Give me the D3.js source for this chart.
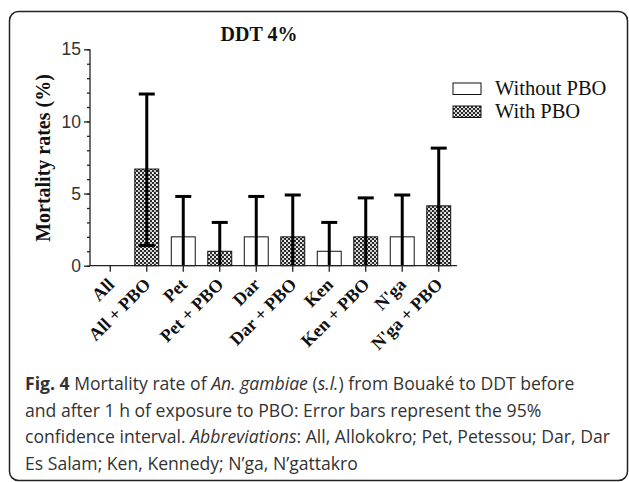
<!DOCTYPE html>
<html>
<head>
<meta charset="utf-8">
<script src="https://cdn.jsdelivr.net/npm/d3@7"></script>
<style>
body { margin: 0; background: #fff; }
svg { display: block; }
</style>
</head>
<body>
<script>
(function(){

//chart data
var categories = ["All", "All + PBO", "Pet", "Pet + PBO", "Dar", "Dar + PBO", "Ken", "Ken + PBO", "N'ga", "N'ga + PBO"];
var withPbo = [false, true, false, true, false, true, false, true, false, true];
var mortality = [0, 6.7, 2.0, 1.0, 2.0, 2.0, 1.0, 2.0, 2.0, 4.15];
var ciLow = [0, 1.4, 0, 0, 0, 0, 0, 0, 0, 0.1];
var ciHigh = [0, 11.9, 4.8, 3.0, 4.8, 4.9, 3.0, 4.7, 4.9, 8.15];
var yTicks = [0, 5, 10, 15];
var legendLabels = ["Without PBO", "With PBO"];
var captionLines = [
    [["b", "Fig. 4"], ["n", " Mortality rate of "], ["i", "An. gambiae"], ["n", " ("], ["i", "s.l."], ["n", ") from Bouaké to DDT before"]],
    [["n", "and after 1 h of exposure to PBO: Error bars represent the 95%"]],
    [["n", "confidence interval. "], ["i", "Abbreviations"], ["n", ": All, Allokokro; Pet, Petessou; Dar, Dar"]],
    [["n", "Es Salam; Ken, Kennedy; N’ga, N’gattakro"]]
];

var width = 629,
    height = 482;

var svg = d3.select("body")
    .append("svg")
    .attr("width", width)
    .attr("height", height);

//checker pattern for the PBO bars
var defs = svg.append("defs");
var pat = defs.append("pattern")
    .attr("id", "checks")
    .attr("patternUnits", "userSpaceOnUse")
    .attr("width", 4)
    .attr("height", 4);
pat.append("rect").attr("width", 4).attr("height", 4).attr("fill", "#2a2a2a");
pat.append("rect").attr("x", 0).attr("y", 0).attr("width", 2).attr("height", 2).attr("fill", "#ececec");
pat.append("rect").attr("x", 2).attr("y", 2).attr("width", 2).attr("height", 2).attr("fill", "#c8c8c8");

//figure frame
svg.append("rect")
    .attr("x", 9.5)
    .attr("y", 11.5)
    .attr("width", 618)
    .attr("height", 469)
    .attr("rx", 9)
    .attr("fill", "none")
    .attr("stroke", "#222")
    .attr("stroke-width", 1.5);

var x = d3.scaleBand()
    .domain(categories)
    .range([91, 458])
    .paddingInner(0.344)
    .paddingOuter(0.2);

var y = d3.scaleLinear()
    .domain([0, 15])
    .range([265.7, 49.3]);

var plot = svg.append("g");

//bars
plot.selectAll(".bar")
    .data(categories)
    .enter()
    .append("rect")
    .attr("class", "bar")
    .attr("x", function(d){ return x(d); })
    .attr("y", function(d, i){ return y(mortality[i]); })
    .attr("width", x.bandwidth())
    .attr("height", function(d, i){ return y(0) - y(mortality[i]); })
    .attr("fill", function(d, i){ return withPbo[i] ? "url(#checks)" : "#fff"; })
    .attr("stroke", "#111")
    .attr("stroke-width", 1)
    .style("display", function(d, i){ return mortality[i] > 0 ? null : "none"; });

//error bars
var cx = function(d){ return x(d) + x.bandwidth() / 2; };
var err = plot.selectAll(".err")
    .data(categories.filter(function(d, i){ return ciHigh[i] > 0; }))
    .enter()
    .append("g")
    .attr("class", "err");
err.append("line")
    .attr("x1", cx).attr("x2", cx)
    .attr("y1", function(d){ return y(ciLow[categories.indexOf(d)]); })
    .attr("y2", function(d){ return y(ciHigh[categories.indexOf(d)]); })
    .attr("stroke", "#000").attr("stroke-width", 3);
err.append("line")
    .attr("x1", function(d){ return cx(d) - 8; })
    .attr("x2", function(d){ return cx(d) + 8; })
    .attr("y1", function(d){ return y(ciHigh[categories.indexOf(d)]); })
    .attr("y2", function(d){ return y(ciHigh[categories.indexOf(d)]); })
    .attr("stroke", "#000").attr("stroke-width", 3);
err.filter(function(d){ return ciLow[categories.indexOf(d)] > 0.5; })
    .append("line")
    .attr("x1", function(d){ return cx(d) - 8; })
    .attr("x2", function(d){ return cx(d) + 8; })
    .attr("y1", function(d){ return y(ciLow[categories.indexOf(d)]); })
    .attr("y2", function(d){ return y(ciLow[categories.indexOf(d)]); })
    .attr("stroke", "#000").attr("stroke-width", 3);

//y axis with minor ticks
var yAxisG = svg.append("g")
    .attr("transform", "translate(90,0)");
yAxisG.call(d3.axisLeft(y).tickValues(d3.range(0, 16, 1)).tickSize(3).tickFormat(""))
    .call(function(g){ g.select(".domain").remove(); });
yAxisG.append("g")
    .call(d3.axisLeft(y).tickValues(yTicks).tickSize(6).tickPadding(3))
    .call(function(g){
        g.select(".domain").attr("d", "M0," + y(15) + "V" + y(0));
        g.selectAll("text")
            .attr("font-family", "Liberation Sans, Arial, sans-serif")
            .attr("font-size", 17.5)
            .attr("fill", "#333");
    });
yAxisG.selectAll("line").attr("stroke", "#222").attr("stroke-width", 1.3);
yAxisG.selectAll(".domain").attr("stroke", "#222").attr("stroke-width", 1.3);

//x axis
var xAxisG = svg.append("g")
    .attr("transform", "translate(0," + y(0) + ")")
    .call(d3.axisBottom(x).tickSize(6).tickFormat(""));
xAxisG.select(".domain").attr("d", "M90,0H457");
xAxisG.selectAll("line, .domain").attr("stroke", "#222").attr("stroke-width", 1.3);

//rotated category labels
svg.selectAll(".xlab")
    .data(categories)
    .enter()
    .append("text")
    .attr("class", "xlab")
    .attr("transform", function(d){ return "translate(" + (cx(d) + 5) + "," + (y(0) + 20) + ") rotate(-45)"; })
    .attr("text-anchor", "end")
    .attr("font-family", "Liberation Serif, Times New Roman, serif")
    .attr("font-weight", "bold")
    .attr("font-size", 18)
    .attr("fill", "#111")
    .text(function(d){ return d; });

//title
svg.append("text")
    .attr("x", 259)
    .attr("y", 41)
    .attr("text-anchor", "middle")
    .attr("font-family", "Liberation Serif, Times New Roman, serif")
    .attr("font-weight", "bold")
    .attr("font-size", 20)
    .attr("fill", "#111")
    .text("DDT 4%");

//y label
svg.append("text")
    .attr("transform", "translate(50,158) rotate(-90)")
    .attr("text-anchor", "middle")
    .attr("font-family", "Liberation Serif, Times New Roman, serif")
    .attr("font-weight", "bold")
    .attr("font-size", 20)
    .attr("fill", "#111")
    .text("Mortality rates (%)");

//legend
var legend = svg.selectAll(".legend")
    .data(legendLabels)
    .enter()
    .append("g")
    .attr("class", "legend")
    .attr("transform", function(d, i){ return "translate(453," + (83 + i * 23) + ")"; });
legend.append("rect")
    .attr("width", 28)
    .attr("height", 11.5)
    .attr("fill", function(d, i){ return i ? "url(#checks)" : "#fff"; })
    .attr("stroke", "#111");
legend.append("text")
    .attr("x", 42)
    .attr("y", 11.5)
    .attr("font-family", "Liberation Serif, Times New Roman, serif")
    .attr("font-size", 20.5)
    .attr("fill", "#111")
    .text(function(d){ return d; });

//caption
var cap = svg.append("text")
    .attr("font-family", "Open Sans, sans-serif")
    .attr("font-size", 17.6)
    .attr("fill", "#333");
captionLines.forEach(function(line, li){
    line.forEach(function(part, pi){
        var t = cap.append("tspan").text(part[1]);
        if (pi == 0) t.attr("x", 25).attr("y", 390 + li * 26.5);
        if (part[0] == "b") t.attr("font-weight", "bold");
        if (part[0] == "i") t.attr("font-style", "italic");
    });
});

})();
</script>
</body>
</html>
